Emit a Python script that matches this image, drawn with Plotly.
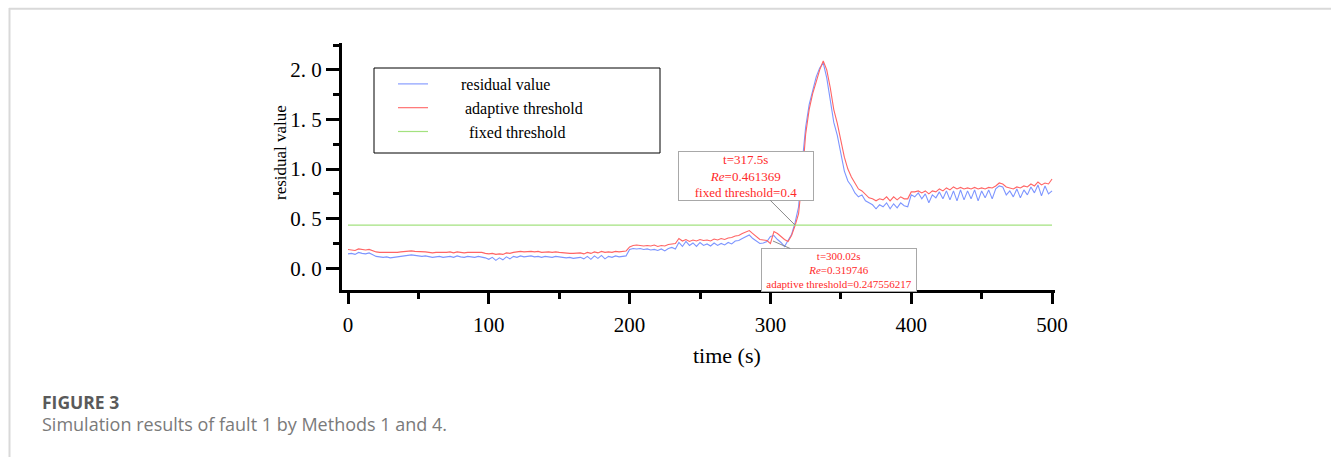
import plotly.graph_objects as go

# ---------------- data ----------------
TIME_STEP = 2.5

residual_value = [
    # t = 0 ... 197.5
    0.145, 0.15, 0.14, 0.16, 0.15, 0.145, 0.155, 0.135, 0.12, 0.115,
    0.11, 0.115, 0.105, 0.11, 0.115, 0.12, 0.125, 0.13, 0.135, 0.13,
    0.125, 0.12, 0.125, 0.115, 0.11, 0.115, 0.12, 0.11, 0.115, 0.12,
    0.11, 0.125, 0.115, 0.11, 0.12, 0.115, 0.11, 0.12, 0.115, 0.105,
    0.09, 0.11, 0.08, 0.105, 0.085, 0.115, 0.095, 0.12, 0.11, 0.125,
    0.115, 0.12, 0.125, 0.115, 0.12, 0.11, 0.12, 0.115, 0.11, 0.12,
    0.115, 0.11, 0.105, 0.11, 0.1, 0.105, 0.11, 0.095, 0.12, 0.09,
    0.125, 0.1, 0.13, 0.095, 0.12, 0.11, 0.125, 0.115, 0.12, 0.125,
    # t = 200 ... 315
    0.19, 0.2, 0.195, 0.2, 0.19, 0.195, 0.185, 0.19, 0.18, 0.195,
    0.175, 0.2, 0.21, 0.195, 0.26, 0.22, 0.27, 0.23, 0.255, 0.22,
    0.26, 0.23, 0.245, 0.225, 0.255, 0.23, 0.25, 0.235, 0.26, 0.245,
    0.275, 0.28, 0.3, 0.32, 0.335, 0.3, 0.27, 0.25, 0.255, 0.27,
    0.32, 0.33, 0.29, 0.26, 0.22, 0.28, 0.34,
    # t = 317.5 ... 400
    0.46, 0.62, 1.05, 1.42, 1.65, 1.78, 1.93, 2.02, 2.07, 1.92,
    1.70, 1.47, 1.34, 1.15, 0.98, 0.88, 0.83, 0.76, 0.72, 0.74,
    0.68, 0.66, 0.64, 0.6, 0.64, 0.62, 0.66, 0.6, 0.65, 0.61,
    0.66, 0.63, 0.62, 0.74,
    # t = 402.5 ... 500
    0.72, 0.76, 0.70, 0.75, 0.66, 0.74, 0.71, 0.77, 0.70, 0.78,
    0.69, 0.78, 0.68, 0.79, 0.69, 0.78, 0.70, 0.79, 0.68, 0.78,
    0.71, 0.79, 0.70, 0.80, 0.83, 0.82, 0.74, 0.78, 0.72, 0.80,
    0.71, 0.79, 0.74, 0.82, 0.76, 0.84, 0.73, 0.83, 0.75, 0.78,
]

adaptive_threshold = [
    # t = 0 ... 197.5
    0.19, 0.185, 0.18, 0.195, 0.19, 0.185, 0.19, 0.175, 0.165, 0.16,
    0.16, 0.155, 0.155, 0.16, 0.16, 0.165, 0.17, 0.175, 0.175, 0.17,
    0.17, 0.165, 0.165, 0.16, 0.155, 0.16, 0.16, 0.155, 0.16, 0.165,
    0.155, 0.165, 0.16, 0.155, 0.16, 0.16, 0.155, 0.16, 0.16, 0.15,
    0.145, 0.15, 0.14, 0.145, 0.14, 0.155, 0.15, 0.16, 0.165, 0.17,
    0.165, 0.17, 0.17, 0.165, 0.17, 0.16, 0.165, 0.165, 0.16, 0.165,
    0.16, 0.155, 0.155, 0.15, 0.15, 0.15, 0.155, 0.145, 0.16, 0.15,
    0.165, 0.155, 0.17, 0.16, 0.165, 0.16, 0.17, 0.165, 0.17, 0.175,
    # t = 200 ... 315
    0.215, 0.23, 0.235, 0.23, 0.225, 0.23, 0.225, 0.235, 0.22, 0.23,
    0.225, 0.24, 0.245, 0.25, 0.3, 0.275, 0.29, 0.27, 0.285, 0.275,
    0.29, 0.28, 0.285, 0.275, 0.295, 0.285, 0.3, 0.29, 0.305, 0.31,
    0.325, 0.33, 0.35, 0.365, 0.38, 0.35, 0.32, 0.29, 0.285, 0.28,
    0.25, 0.37, 0.35, 0.32, 0.29, 0.27, 0.33,
    # t = 317.5 ... 400
    0.43, 0.55, 0.9, 1.35, 1.6, 1.76, 1.88, 2.0, 2.09, 2.0,
    1.82, 1.6, 1.46, 1.3, 1.12, 1.0, 0.92, 0.86, 0.8, 0.78,
    0.74, 0.71, 0.7, 0.68, 0.7, 0.69, 0.72, 0.68, 0.72, 0.69,
    0.72, 0.7, 0.7, 0.77,
    # t = 402.5 ... 500
    0.77, 0.78, 0.76, 0.78, 0.75, 0.78, 0.77, 0.8, 0.78, 0.81,
    0.79, 0.82, 0.8, 0.815, 0.8, 0.81, 0.8, 0.815, 0.8, 0.81,
    0.8, 0.815, 0.81, 0.83, 0.86, 0.85, 0.82, 0.81, 0.8, 0.82,
    0.81, 0.83, 0.82, 0.85, 0.83, 0.87, 0.84, 0.86, 0.85, 0.9,
]

fixed_threshold_t = [0, 500]
fixed_threshold_v = [0.435, 0.435]

series_names = ["residual value", "adaptive threshold", "fixed threshold"]

y_tick_vals = [0.0, 0.5, 1.0, 1.5, 2.0]
y_tick_text = ["0. 0", "0. 5", "1. 0", "1. 5", "2. 0"]
y_minor_vals = [0.25, 0.75, 1.25, 1.75, 2.25]

x_title = "time (s)"
y_title = "residual value"

# callout points (data coords) and their texts
call1_t, call1_v = 317.5, 0.435
call1_text = "t=317.5s<br><i>Re</i>=0.461369<br>fixed threshold=0.4"
call2_t, call2_v = 301.8, 0.275
call2_text = "t=300.02s<br><i>Re</i>=0.319746<br>adaptive threshold=0.247556217"

assert len(residual_value) == len(adaptive_threshold) == 201
times = [i * TIME_STEP for i in range(len(residual_value))]

# ---------------- figure ----------------
W, H = 1331, 457
SERIF = "Liberation Serif, Times New Roman, serif"
NB = "\u00a0"

def px(x):
    return x / W

def py(y):
    return 1 - y / H

fig = go.Figure()
fig.add_trace(go.Scatter(x=times, y=residual_value, mode="lines",
                         name=NB * 7 + series_names[0],
                         line=dict(color="#7d95ff", width=1.1)))
fig.add_trace(go.Scatter(x=times, y=adaptive_threshold, mode="lines",
                         name=NB * 8 + series_names[1],
                         line=dict(color="#ff6464", width=1.1)))
fig.add_trace(go.Scatter(x=fixed_threshold_t, y=fixed_threshold_v, mode="lines",
                         name=NB * 9 + series_names[2],
                         line=dict(color="#a3e27f", width=1.2)))

fig.update_layout(
    width=W, height=H,
    margin=dict(l=0, r=0, t=0, b=0),
    paper_bgcolor="white", plot_bgcolor="white",
    font=dict(family=SERIF, color="black"),
    showlegend=True,
    legend=dict(x=px(393), y=py(67), xanchor="left", yanchor="top",
                bgcolor="rgba(0,0,0,0)", borderwidth=0,
                font=dict(family=SERIF, size=16, color="black")),
    xaxis=dict(domain=[px(342), px(1055)], range=[-4.26, 502.1],
               showline=True, linecolor="black", linewidth=3,
               ticks="outside", ticklen=11, tickwidth=3, tickcolor="black",
               tick0=0, dtick=100, showgrid=False, zeroline=False,
               ticklabelstandoff=3,
               minor=dict(dtick=50, tick0=0, ticks="outside", ticklen=6,
                          tickwidth=3, tickcolor="black", showgrid=False),
               tickfont=dict(family=SERIF, size=21, color="black"),
               automargin=False),
    yaxis=dict(domain=[py(290), py(43)], range=[-0.219, 2.271],
               showline=True, linecolor="black", linewidth=3,
               ticks="outside", ticklen=13, tickwidth=3, tickcolor="black",
               tickvals=y_tick_vals, ticktext=y_tick_text,
               showgrid=False, zeroline=False, ticklabelstandoff=0,
               minor=dict(tickvals=y_minor_vals, ticks="outside", ticklen=6,
                          tickwidth=3, tickcolor="black", showgrid=False),
               tickfont=dict(family=SERIF, size=21, color="black"),
               automargin=False),
)

# axis titles (placed off-centre like the original)
fig.add_annotation(x=px(727), y=py(355), xref="paper", yref="paper",
                   xanchor="center", yanchor="middle", showarrow=False,
                   text=x_title, font=dict(family=SERIF, size=22, color="black"))
fig.add_annotation(x=px(280), y=py(153), xref="paper", yref="paper",
                   xanchor="center", yanchor="middle", showarrow=False,
                   textangle=-90,
                   text=y_title, font=dict(family=SERIF, size=17, color="black"))

# legend frame
fig.add_shape(type="rect", xref="paper", yref="paper",
              x0=px(374), x1=px(660), y0=py(153), y1=py(68),
              line=dict(color="black", width=1), fillcolor="rgba(0,0,0,0)")

# page frame (light grey top and left rules)
fig.add_shape(type="line", xref="paper", yref="paper",
              x0=px(9), x1=1, y0=py(8.7), y1=py(8.7),
              line=dict(color="#d9d9d9", width=2))
fig.add_shape(type="line", xref="paper", yref="paper",
              x0=px(9.5), x1=px(9.5), y0=0, y1=py(8),
              line=dict(color="#d9d9d9", width=2))

# callouts
fig.add_annotation(x=call1_t, y=call1_v, xref="x", yref="y",
                   text=call1_text, showarrow=True, arrowhead=0,
                   arrowwidth=1, arrowcolor="#8a8a8a", standoff=0,
                   ax=-49.5, ay=-49.5,
                   font=dict(family=SERIF, size=13, color="#ff2a2a"),
                   bgcolor="white", bordercolor="#a8a8a8", borderwidth=1,
                   borderpad=1, width=132, height=46, align="center")
fig.add_annotation(x=call2_t, y=call2_v, xref="x", yref="y",
                   text=call2_text, showarrow=True, arrowhead=0,
                   arrowwidth=1, arrowcolor="#8a8a8a", standoff=0,
                   ax=66.5, ay=29,
                   font=dict(family=SERIF, size=11, color="#ff2a2a"),
                   bgcolor="white", bordercolor="#a8a8a8", borderwidth=1,
                   borderpad=1, width=152, height=40, align="center")

# caption
fig.add_annotation(x=px(40), y=py(402), xref="paper", yref="paper",
                   xanchor="left", yanchor="middle", showarrow=False,
                   text="<b>FIGURE 3</b>",
                   font=dict(family="Open Sans, sans-serif", size=17.5, color="#5a5a5a"))
fig.add_annotation(x=px(40), y=py(424), xref="paper", yref="paper",
                   xanchor="left", yanchor="middle", showarrow=False,
                   text="Simulation results of fault 1 by Methods 1 and 4.",
                   font=dict(family="Open Sans, sans-serif", size=18, color="#7a7a7a"))

fig.write_html("out.html")
